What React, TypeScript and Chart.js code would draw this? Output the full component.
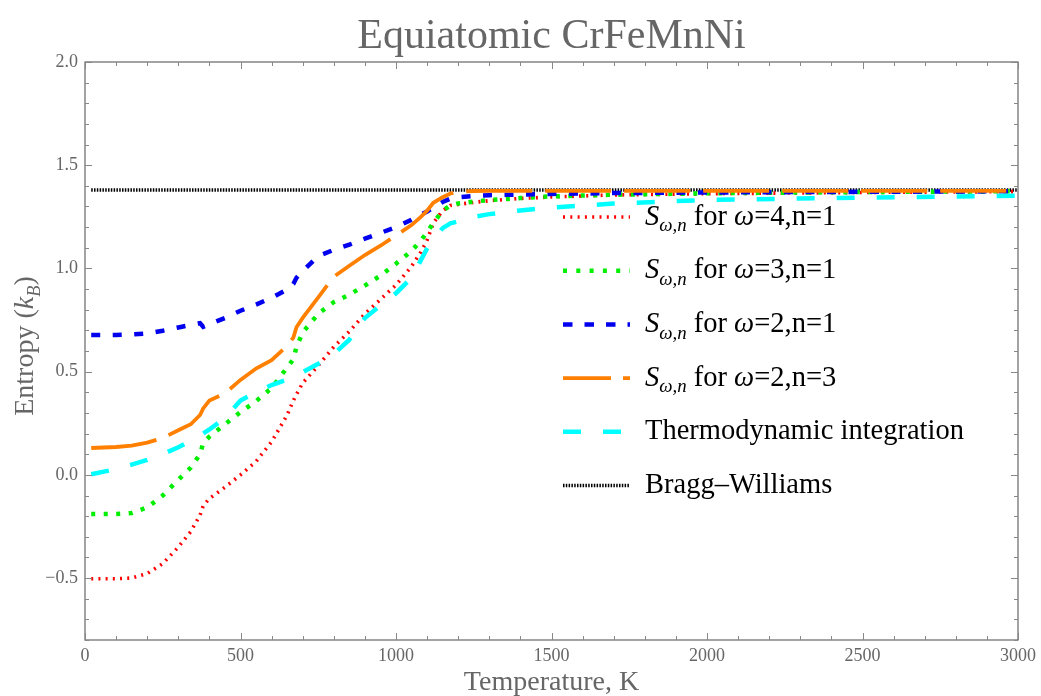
import React, { useEffect, useRef } from "react";
import { Chart, registerables } from "chart.js";

Chart.register(...registerables);

const temperatures = [
  20, 100, 150, 200, 250, 300, 340, 370, 380, 400, 450, 500, 550, 600, 650, 670, 680, 700,
  750, 800, 850, 900, 950, 1000, 1050, 1080, 1100, 1120, 1150, 1175, 1200, 1250, 1300, 1400,
  1500, 1700, 2000, 2500, 3000,
];

const sOmega4n1 = [
  -0.503, -0.503, -0.5, -0.478, -0.43, -0.35, -0.275, -0.195, -0.15, -0.115, -0.06, 0.0, 0.065,
  0.16, 0.29, 0.36, 0.39, 0.445, 0.53, 0.62, 0.695, 0.78, 0.85, 0.92, 1.01, 1.08, 1.137, 1.22,
  1.28, 1.305, 1.31, 1.32, 1.328, 1.339, 1.346, 1.356, 1.362, 1.368, 1.372,
];

const sOmega3n1 = [
  -0.19, -0.19, -0.185, -0.158, -0.1, -0.024, 0.035, 0.1, 0.155, 0.185, 0.245, 0.304, 0.357,
  0.42, 0.52, 0.56, 0.62, 0.69, 0.78, 0.837, 0.873, 0.917, 0.965, 1.023, 1.085, 1.135, 1.175,
  1.22, 1.28, 1.305, 1.315, 1.324, 1.331, 1.341, 1.349, 1.357, 1.364, 1.37, 1.374,
];

const sOmega2n1 = [
  0.677, 0.678, 0.68, 0.685, 0.698, 0.714, 0.727, 0.735, 0.717, 0.73, 0.76, 0.795, 0.825, 0.858,
  0.898, 0.925, 0.955, 0.988, 1.06, 1.09, 1.115, 1.144, 1.172, 1.2, 1.236, 1.26, 1.276, 1.295,
  1.322, 1.338, 1.345, 1.351, 1.355, 1.358, 1.361, 1.365, 1.368, 1.371, 1.374,
];

const sOmega2n3 = [
  0.13, 0.135, 0.142, 0.156, 0.179, 0.216, 0.245, 0.29, 0.322, 0.36, 0.395, 0.46, 0.515, 0.556,
  0.625, 0.665, 0.715, 0.76, 0.86, 0.96, 1.013, 1.065, 1.11, 1.16, 1.21, 1.25, 1.28, 1.318,
  1.345, 1.363, 1.372, 1.375, 1.376, 1.376, 1.376, 1.376, 1.376, 1.376, 1.376,
];

const thermoIntegration = [
  0.003, 0.028, 0.05, 0.073, 0.1, 0.134, 0.165, 0.19, 0.2, 0.22, 0.275, 0.36, 0.4, 0.435, 0.462,
  0.47, 0.48, 0.498, 0.538, 0.585, 0.655, 0.76, 0.82, 0.88, 0.955, 1.04, 1.097, 1.14, 1.195,
  1.218, 1.228, 1.25, 1.263, 1.281, 1.295, 1.314, 1.332, 1.343, 1.352,
];

const braggWilliamsTemps = [20, 3000];
const braggWilliamsValues = [1.38, 1.38];

const xTicks = [0, 500, 1000, 1500, 2000, 2500, 3000];
const yTicks = [-0.5, 0.0, 0.5, 1.0, 1.5, 2.0];

const titleText = "Equiatomic CrFeMnNi";
const xAxisTitle = "Temperature, K";

type Seg = { t: string; italic?: boolean; sub?: boolean };

const sLabel = (w: string, n: string): Seg[] => [
  { t: "S", italic: true },
  { t: "ω,n", italic: true, sub: true },
  { t: " for " },
  { t: "ω", italic: true },
  { t: "=" + w + ",n=" + n },
];

const legendLabels: Seg[][] = [
  sLabel("4", "1"),
  sLabel("3", "1"),
  sLabel("2", "1"),
  sLabel("2", "3"),
  [{ t: "Thermodynamic integration" }],
  [{ t: "Bragg–Williams" }],
];

const SERIF = "'Liberation Serif', 'Times New Roman', serif";
const GRAY = "#666666";

function toPoints(xs: number[], ys: number[]) {
  return xs.map((x, i) => ({ x, y: ys[i] }));
}

const seriesStyles = [
  { color: "#ff0000", width: 3.6, dash: [2, 5.2], legendDash: [2, 5.3] },
  { color: "#00ee00", width: 4.5, dash: [4, 8.5], legendDash: [4, 9.3] },
  { color: "#0000ee", width: 4.5, dash: [9, 12.5], legendDash: [9.5, 12] },
  { color: "#ff8000", width: 3.8, dash: [66, 13], legendDash: [48, 12] },
  { color: "#00ffff", width: 4.5, dash: [18, 22], legendDash: [18, 22] },
  { color: "#000000", width: 3.5, dash: [1.5, 1.3], legendDash: [1.5, 1.3] },
];

function drawSegs(ctx: CanvasRenderingContext2D, segs: Seg[], x: number, y: number, size: number) {
  let cx = x;
  for (const s of segs) {
    const fs = s.sub ? size * 0.66 : size;
    ctx.font = `${s.italic ? "italic " : ""}${fs}px ${SERIF}`;
    const dy = s.sub ? size * 0.24 : 0;
    ctx.fillText(s.t, cx, y + dy);
    cx += ctx.measureText(s.t).width;
  }
  return cx;
}

const decorPlugin = {
  id: "decor",
  afterDraw(chart: any) {
    const ctx: CanvasRenderingContext2D = chart.ctx;
    const { left, right, top, bottom } = chart.chartArea;
    const xs = chart.scales.x;
    const ys = chart.scales.y;
    ctx.save();

    // frame
    ctx.strokeStyle = GRAY;
    ctx.lineWidth = 1.2;
    ctx.setLineDash([]);
    ctx.strokeRect(left, top, right - left, bottom - top);

    // ticks (major + minor) on all four sides
    ctx.strokeStyle = "#888";
    ctx.lineWidth = 1;
    for (let v = 0; v <= 3000; v += 100) {
      const major = v % 500 === 0;
      const len = major ? 7 : 4;
      const px = Math.round(xs.getPixelForValue(v)) + 0.5;
      ctx.beginPath();
      ctx.moveTo(px, bottom);
      ctx.lineTo(px, bottom - len);
      ctx.moveTo(px, top);
      ctx.lineTo(px, top + len);
      ctx.stroke();
    }
    for (let k = -8; k <= 20; k++) {
      const v = k / 10;
      const major = k % 5 === 0;
      const len = major ? 7 : 4;
      const py = Math.round(ys.getPixelForValue(v)) + 0.5;
      ctx.beginPath();
      ctx.moveTo(left, py);
      ctx.lineTo(left + len, py);
      ctx.moveTo(right, py);
      ctx.lineTo(right - len, py);
      ctx.stroke();
    }

    // title
    ctx.fillStyle = GRAY;
    ctx.textAlign = "center";
    ctx.textBaseline = "alphabetic";
    ctx.font = `42px ${SERIF}`;
    ctx.fillText(titleText, (left + right) / 2, 48);

    // x axis title
    ctx.font = `28px ${SERIF}`;
    ctx.fillText(xAxisTitle, (left + right) / 2, 690);

    // y axis title
    ctx.save();
    ctx.translate(33, (top + bottom) / 2 - 5);
    ctx.rotate(-Math.PI / 2);
    ctx.textAlign = "left";
    const ySegs: Seg[] = [
      { t: "Entropy (" },
      { t: "k", italic: true },
      { t: "B", italic: true, sub: true },
      { t: ")" },
    ];
    let w = 0;
    for (const s of ySegs) {
      const fs = s.sub ? 28 * 0.66 : 28;
      ctx.font = `${s.italic ? "italic " : ""}${fs}px ${SERIF}`;
      w += ctx.measureText(s.t).width;
    }
    drawSegs(ctx, ySegs, -w / 2, 0, 28);
    ctx.restore();

    // legend
    const lx0 = 563;
    const lx1 = 630;
    const tx = 645;
    const row0 = 217;
    const gap = 53.7;
    ctx.textAlign = "left";
    legendLabels.forEach((segs, i) => {
      const st = seriesStyles[i];
      const y = row0 + i * gap;
      ctx.strokeStyle = st.color;
      ctx.lineWidth = st.width;
      ctx.setLineDash(st.legendDash);
      ctx.beginPath();
      ctx.moveTo(lx0, y);
      ctx.lineTo(lx1, y);
      ctx.stroke();
      ctx.setLineDash([]);
      ctx.fillStyle = "#000";
      drawSegs(ctx, segs, tx, y + 7.5, 28.5);
    });

    ctx.restore();
  },
};

export default function App() {
  const ref = useRef<HTMLCanvasElement | null>(null);

  useEffect(() => {
    if (!ref.current) return;
    const seriesData = [sOmega4n1, sOmega3n1, sOmega2n1, sOmega2n3, thermoIntegration];
    const datasets: any[] = seriesData.map((vals, i) => ({
      label: legendLabels[i].map((s) => s.t).join(""),
      data: toPoints(temperatures, vals),
      borderColor: seriesStyles[i].color,
      borderWidth: seriesStyles[i].width,
      borderDash: seriesStyles[i].dash,
      pointRadius: 0,
      fill: false,
      tension: 0,
      order: 6 - i,
    }));
    datasets.push({
      label: "Bragg–Williams",
      data: toPoints(braggWilliamsTemps, braggWilliamsValues),
      borderColor: seriesStyles[5].color,
      borderWidth: seriesStyles[5].width,
      borderDash: seriesStyles[5].dash,
      pointRadius: 0,
      fill: false,
      order: 10,
    });

    const chart = new Chart(ref.current, {
      type: "line",
      data: { datasets },
      options: {
        responsive: false,
        animation: false,
        layout: { padding: { top: 62, right: 22, left: 0, bottom: 0 } },
        plugins: {
          legend: { display: false },
          title: { display: false },
          tooltip: { enabled: false },
        },
        scales: {
          x: {
            type: "linear",
            min: 0,
            max: 3000,
            afterBuildTicks: (s: any) => {
              s.ticks = xTicks.map((v) => ({ value: v }));
            },
            afterFit: (s: any) => {
              s.height = 56;
            },
            ticks: {
              font: { family: SERIF, size: 18 },
              color: GRAY,
              padding: 5,
              maxRotation: 0,
              callback: (v: any) => String(v),
            },
            grid: { display: false, drawTicks: false },
            border: { display: false },
          },
          y: {
            type: "linear",
            min: -0.8,
            max: 2.0,
            afterBuildTicks: (s: any) => {
              s.ticks = yTicks.map((v) => ({ value: v }));
            },
            afterFit: (s: any) => {
              s.width = 85;
            },
            ticks: {
              font: { family: SERIF, size: 18 },
              color: GRAY,
              padding: 7,
              callback: (v: any) => {
                const n = Number(v);
                const str = Math.abs(n).toFixed(1);
                return n < 0 ? "\u2212" + str : str;
              },
            },
            grid: { display: false, drawTicks: false },
            border: { display: false },
          },
        },
      },
      plugins: [decorPlugin],
    });
    return () => chart.destroy();
  }, []);

  return (
    <div style={{ position: "fixed", left: 0, top: 0, width: 1041, height: 696, background: "#fff" }}>
      <canvas ref={ref} width={1041} height={696} style={{ width: 1041, height: 696 }} />
    </div>
  );
}
